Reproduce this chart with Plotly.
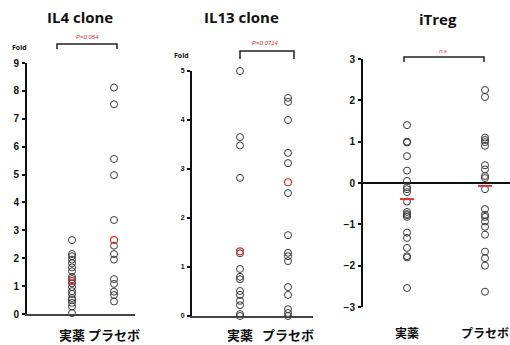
import plotly.graph_objects as go

W, H = 510, 345

# ---- data -------------------------------------------------------------
categories = ["実薬", "プラセボ"]

il4_active = [2.65, 2.15, 2.07, 1.95, 1.82, 1.67, 1.53, 1.33, 1.25, 1.1,
              0.97, 0.82, 0.72, 0.57, 0.5, 0.4, 0.27, 0.03]
il4_placebo = [8.12, 7.52, 5.56, 4.98, 3.37, 2.45, 2.15, 1.95, 1.25, 1.08,
               0.8, 0.68, 0.45]
il4_center = [1.18, 2.65]

il13_active = [5.0, 3.65, 3.48, 2.82, 1.28, 0.96, 0.8, 0.75, 0.51, 0.43,
               0.31, 0.22, 0.04, 0.0]
il13_placebo = [4.45, 4.37, 4.0, 3.33, 3.12, 2.51, 1.65, 1.29, 1.22, 1.12,
                0.59, 0.43, 0.14, 0.06, 0.0]
il13_center = [1.32, 2.73]

itreg_active = [1.4, 1.0, 0.98, 0.65, 0.3, 0.05, -0.1, -0.15, -0.22, -0.45,
                -0.7, -0.75, -0.78, -0.82, -1.2, -1.33, -1.57, -1.77, -1.8,
                -2.54]
itreg_placebo = [2.25, 2.08, 1.1, 1.04, 0.99, 0.9, 0.43, 0.33, 0.17, 0.12,
                 -0.15, -0.63, -0.77, -0.82, -0.93, -1.06, -1.25, -1.66,
                 -1.82, -2.0, -2.63]
itreg_center = [-0.39, -0.07]

titles = ["IL4 clone", "IL13 clone", "iTreg"]
p_labels = ["P=0.054", "P=0.0714", "n.s"]


def px(x):
    return x / W


def py(y):
    return 1 - y / H


CIRCLE = dict(symbol="circle-open", size=7, color="#3a3a3a",
              line=dict(width=1, color="#3a3a3a"))

fig = go.Figure()


def add_points(axis, active, placebo):
    xs = [categories[0]] * len(active) + [categories[1]] * len(placebo)
    fig.add_trace(go.Scatter(x=xs, y=active + placebo, mode="markers",
                             marker=CIRCLE, cliponaxis=False,
                             xaxis="x" + axis, yaxis="y" + axis,
                             showlegend=False, hoverinfo="y"))


def add_center(axis, vals, symbol):
    if symbol == "circle-open":
        mk = dict(symbol=symbol, size=7, color="#e03030",
                  line=dict(width=1.2, color="#e03030"))
    else:
        mk = dict(symbol=symbol, size=10, color="#e03030",
                  line=dict(width=2, color="#e03030"))
    fig.add_trace(go.Scatter(x=categories, y=vals, mode="markers",
                             marker=mk, cliponaxis=False,
                             xaxis="x" + axis, yaxis="y" + axis,
                             showlegend=False, hoverinfo="y"))


add_points("", il4_active, il4_placebo)
add_center("", il4_center, "circle-open")
add_points("2", il13_active, il13_placebo)
add_center("2", il13_center, "circle-open")
add_points("3", itreg_active, itreg_placebo)
add_center("3", itreg_center, "line-ew")


def cjk(size):
    return dict(family="Noto Sans CJK JP", size=size, color="#111",
                weight="bold")


TICK = dict(family="Liberation Sans", size=10, color="#111", weight="bold")


def xaxis(domain_px, col_px, anchor, showline, standoff, font):
    l, r = domain_px
    c0, c1 = col_px
    step = c1 - c0
    r0 = -(c0 - l) / step
    r1 = r0 + (r - l) / step
    return dict(domain=[px(l), px(r)], range=[r0, r1], anchor=anchor,
                type="category", categoryarray=categories,
                showline=showline, linecolor="#444", linewidth=1.5,
                showgrid=False, zeroline=False, ticks="", tickangle=0,
                tickfont=font, ticklabelstandoff=standoff, fixedrange=True,
                automargin=False)


def yaxis(dom_px, rng, anchor, dtick, tickfont, **kw):
    b, t = dom_px
    d = dict(domain=[py(b), py(t)], range=rng, anchor=anchor,
             showline=True, linecolor="#111", linewidth=2,
             showgrid=False, zeroline=False, ticks="outside", ticklen=3,
             tickwidth=1.5, tickcolor="#111", dtick=dtick, tickfont=tickfont,
             ticklabelstandoff=1, fixedrange=True, automargin=False)
    d.update(kw)
    return d


fig.update_layout(
    width=W, height=H, margin=dict(l=0, r=0, t=0, b=0),
    paper_bgcolor="white", plot_bgcolor="white",
    xaxis=xaxis((27, 135), (72, 114), "y", True, 9, cjk(13)),
    yaxis=yaxis((314, 63), [0, 9], "x", 1, TICK),
    xaxis2=xaxis((192, 313), (240, 288), "y2", True, 7, cjk(13)),
    yaxis2=yaxis((316, 71), [0, 5], "x2", 1,
                 dict(family="Liberation Sans", size=7, color="#111",
                      weight="bold")),
    xaxis3=xaxis((363, 510), (407, 485), "y3", False, 18, cjk(12)),
    yaxis3=yaxis((307, 59), [-3, 3], "x3", 1, TICK,
                 zeroline=True, zerolinecolor="#111", zerolinewidth=2),
)

# panel titles
for text, cx, cy in zip(titles, [80, 241, 438], [17, 17, 19]):
    fig.add_annotation(x=px(cx), y=py(cy), xref="paper", yref="paper",
                       xanchor="center", yanchor="middle",
                       text=text, showarrow=False,
                       font=dict(family="Open Sans", size=15, color="#111",
                                 weight="bold"))

# "Fold" unit labels
for cx, cy in [(19, 47), (181, 56)]:
    fig.add_annotation(x=px(cx), y=py(cy), xref="paper", yref="paper",
                       xanchor="center", yanchor="middle",
                       text="Fold", showarrow=False,
                       font=dict(family="Open Sans", size=7, color="#111",
                                 weight="bold"))

# significance brackets
brackets = [(57, 117, 44, 49, 87, 37),
            (240, 294, 51, 59, 265, 43),
            (404, 484, 57, 62, 443, 51)]
for (xl, xr, yt, yb, tx, ty), lab in zip(brackets, p_labels):
    fig.add_shape(type="path", xref="paper", yref="paper",
                  path=(f"M {px(xl)} {py(yb)} L {px(xl)} {py(yt)} "
                        f"L {px(xr)} {py(yt)} L {px(xr)} {py(yb)}"),
                  line=dict(color="#222", width=1.5))
    fig.add_annotation(x=px(tx), y=py(ty), xref="paper", yref="paper",
                       xanchor="center", yanchor="middle",
                       text=f"<i>{lab}</i>", showarrow=False,
                       font=dict(family="Liberation Sans", size=6,
                                 color="#e03030"))

fig.write_html("out.html")
